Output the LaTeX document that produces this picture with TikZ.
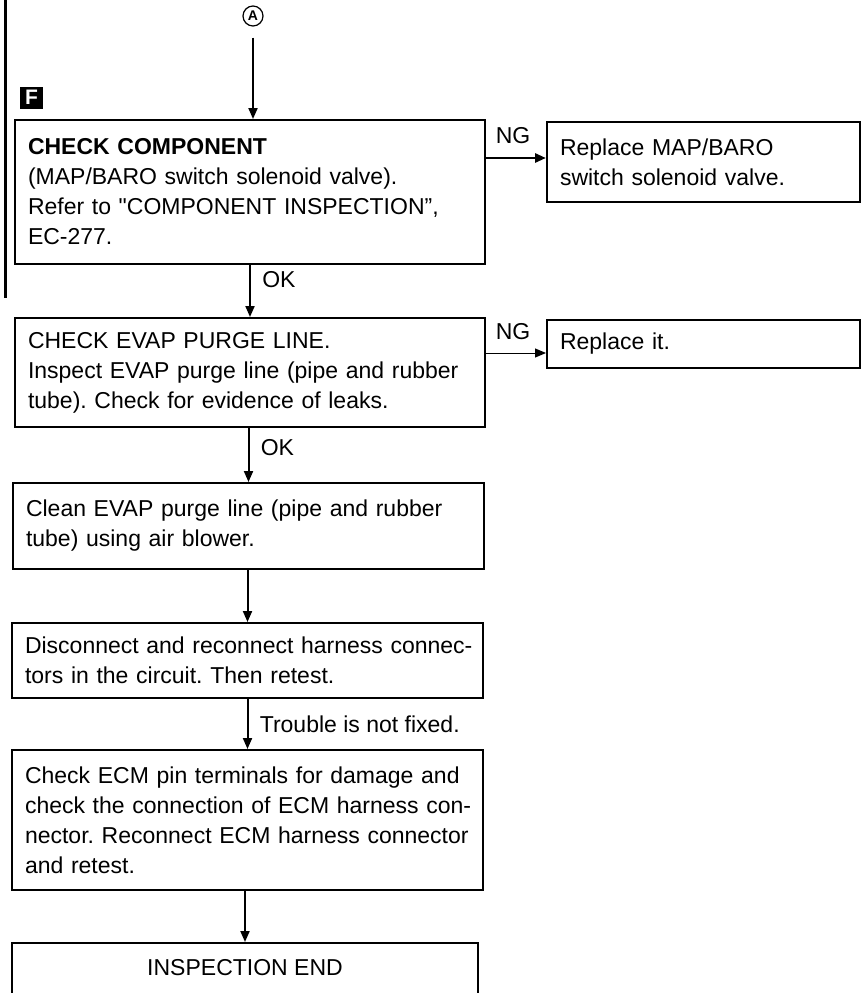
\documentclass[tikz,border=0pt]{standalone}
\usepackage{fontspec}
\setmainfont{Liberation Sans}[Ligatures=TeXOff]
\usetikzlibrary{arrows.meta}
\frenchspacing

\begin{document}
\begin{tikzpicture}[x=1pt, y=-1pt, >={Triangle[length=11pt,width=9pt]},
        box/.style={draw, line width=2pt, inner xsep=13pt, inner ysep=0pt,
            font=\fontsize{23}{30}\selectfont,
            execute at begin node={\parindent=0pt\rightskip=0pt plus 1fil minus 40pt\hyphenpenalty=10000\relax}},
        flow/.style={->, line width=2pt},
        lbl/.style={font=\fontsize{23}{30}\selectfont}]

        \useasboundingbox (0,0) rectangle (862,993);

        % --- Метка входа и маркер раздела ---
        \node[circle, draw, line width=1.2pt, minimum size=20pt, inner sep=0pt,
            font=\bfseries\fontsize{14}{14}\selectfont] (A) at (253,16) {A};
        \node[fill=black, text=white, minimum width=23pt, minimum height=22pt,
            inner sep=0pt, font=\bfseries\fontsize{21}{21}\selectfont] (F) at (31.5,97.5) {F};
        \draw[line width=3pt] (5,0) -- (5,298);

        % --- Основная цепочка проверок ---
        \node[box, text width=444pt, minimum height=144pt] (chk) at (250,192)
            {\textbf{CHECK COMPONENT}\\(MAP/BARO switch solenoid valve).\\Refer to "COMPONENT INSPECTION”,\\EC-277.};
        \node[box, text width=444pt, minimum height=109pt] (evap) at (250,372.5)
            {CHECK EVAP PURGE LINE.\\Inspect EVAP purge line (pipe and rubber\\tube). Check for evidence of leaks.};
        \node[box, text width=445pt, minimum height=86pt] (clean) at (248.5,526)
            {Clean EVAP purge line (pipe and rubber\\tube) using air blower.};
        \node[box, text width=445pt, minimum height=75pt] (recon) at (247.5,660.5)
            {Disconnect and reconnect harness connec-\\tors in the circuit. Then retest.};
        \node[box, text width=445pt, minimum height=140pt] (ecm) at (247.5,820)
            {Check ECM pin terminals for damage and\\check the connection of ECM harness con-\\nector. Reconnect ECM harness connector\\and retest.};
        \node[draw, line width=2pt, lbl, minimum width=466pt, text height=32pt, text depth=60pt,
            inner ysep=0pt, anchor=north] (fin) at (245,942) {INSPECTION END};

        % --- Ветви NG ---
        \node[box, text width=287pt, minimum height=80pt] (rep1) at (703.5,162)
            {Replace MAP/BARO\\switch solenoid valve.};
        \node[box, text width=287pt, minimum height=48pt] (rep2) at (703.5,344)
            {Replace it.};

        % --- Стрелки ---
        \draw[flow, shorten <=11pt] (A) -- (A |- chk.north);
        \draw[flow] (chk) -- (evap) node[lbl, right=8pt, pos=0.28] {OK};
        \draw[flow] (evap.south -| clean) -- (clean.north) node[lbl, right=8pt, pos=0.36] {OK};
        \draw[flow] (clean.south -| recon) -- (recon.north);
        \draw[flow] (recon) -- (ecm) node[lbl, right=8pt, pos=0.5] {Trouble is not fixed.};
        \draw[flow] (ecm.south -| fin) -- (fin.north);

        \coordinate (ng1) at ([yshift=4pt]rep1.west);
        \coordinate (ng2) at ([yshift=-9pt]rep2.west);
        \draw[flow, line width=2.8pt] (chk.east |- ng1) -- (ng1) node[lbl, above=10pt, pos=0.45] {NG};
        \draw[flow, line width=1pt] (evap.east |- ng2) -- (ng2) node[lbl, above=9pt, pos=0.45] {NG};

    \end{tikzpicture}
\end{document}
